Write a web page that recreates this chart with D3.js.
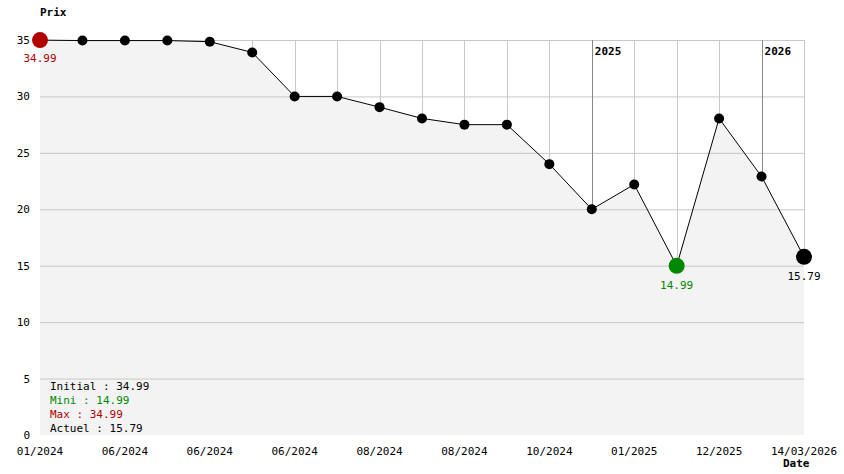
<!DOCTYPE html><html><head><meta charset="utf-8"><script src="https://cdn.jsdelivr.net/npm/d3@7"></script>
<style>body{margin:0;background:#fff}text{font-family:"DejaVu Sans Mono",monospace;font-size:11px}</style></head><body><svg id="c" width="844" height="474"></svg>
<script>
const prices=[34.99,34.95,34.95,34.95,34.85,33.9,30,30,29.05,28.05,27.5,27.5,24,20,22.2,14.99,28.05,22.9,15.79];
const xLabels=["01/2024","06/2024","06/2024","06/2024","08/2024","08/2024","10/2024","01/2025","12/2025","14/03/2026"];
const yearMarks=[{i:13,label:"2025"},{i:17,label:"2026"}];
const yTicks=[0,5,10,15,20,25,30,35];
const svg=d3.select("#c");
const x=d3.scaleLinear().domain([0,prices.length-1]).range([40,804]);
const y=d3.scaleLinear().domain([0,35]).range([435,40]);
const idx=d3.range(prices.length);
svg.append("path").datum(idx).attr("fill","#f3f3f3")
 .attr("d",d3.area().x(i=>x(i)).y0(y(0)).y1(i=>y(prices[i])));
const g=svg.append("g").attr("stroke","#c8c8c8").attr("stroke-width",1);
yTicks.filter(t=>t>0).forEach(t=>g.append("line").attr("x1",40).attr("x2",804).attr("y1",y(t)+.5).attr("y2",y(t)+.5));
idx.filter(i=>i>0).forEach(i=>g.append("line").attr("x1",Math.round(x(i))+.5).attr("x2",Math.round(x(i))+.5).attr("y1",40).attr("y2",y(prices[i])));
yearMarks.forEach(m=>{svg.append("line").attr("stroke","#888").attr("x1",Math.round(x(m.i))+.5).attr("x2",Math.round(x(m.i))+.5).attr("y1",40).attr("y2",y(prices[m.i]));
 svg.append("text").attr("x",x(m.i)+3).attr("y",55).attr("font-weight","bold").text(m.label);});
svg.append("path").datum(idx).attr("fill","none").attr("stroke","#000").attr("stroke-width",1)
 .attr("d",d3.line().x(i=>x(i)).y(i=>y(prices[i])));
const mn=d3.min(prices),mx=d3.max(prices),last=prices.length-1;
const iMin=prices.indexOf(mn),iMax=prices.indexOf(mx);
idx.forEach(i=>{let r=5,c="#000";if(i===iMax){r=8;c="#b00000"}else if(i===iMin){r=8;c="#008800"}else if(i===last){r=8}
 svg.append("circle").attr("cx",x(i)).attr("cy",y(prices[i])).attr("r",r).attr("fill",c);});
svg.append("text").attr("x",x(iMax)).attr("y",y(mx)+22).attr("text-anchor","middle").attr("fill","#b00000").text(mx.toFixed(2));
svg.append("text").attr("x",x(iMin)).attr("y",y(mn)+23).attr("text-anchor","middle").attr("fill","#008800").text(mn.toFixed(2));
svg.append("text").attr("x",x(last)).attr("y",y(prices[last])+23).attr("text-anchor","middle").text(prices[last].toFixed(2));
yTicks.forEach(t=>svg.append("text").attr("x",30).attr("y",y(t)+4).attr("text-anchor","end").text(t));
xLabels.forEach((l,k)=>svg.append("text").attr("x",x(k*2)).attr("y",455).attr("text-anchor","middle").text(l));
svg.append("text").attr("x",40).attr("y",16).attr("font-weight","bold").text("Prix");
svg.append("text").attr("x",783).attr("y",467).attr("font-weight","bold").text("Date");
const leg=[["Initial : "+prices[0].toFixed(2),"#000"],["Mini : "+mn.toFixed(2),"#008800"],["Max : "+mx.toFixed(2),"#b00000"],["Actuel : "+prices[last].toFixed(2),"#000"]];
leg.forEach((d,k)=>svg.append("text").attr("x",50).attr("y",390+k*14).attr("fill",d[1]).text(d[0]));
</script></body></html>
